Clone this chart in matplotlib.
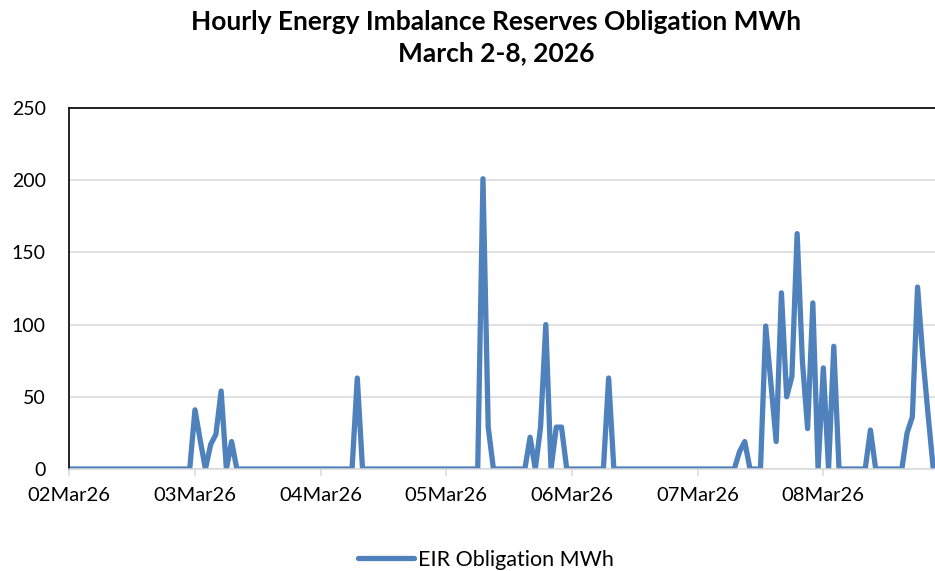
import numpy as np
import pandas as pd
import matplotlib
matplotlib.use('Agg')
import matplotlib.pyplot as plt
import matplotlib.dates as mdates

plt.rcParams['font.family'] = ['Lato', 'DejaVu Sans']

# EIR obligation, MWh, one value per hour (hour 0 = 02Mar26 00:00)
mar02 = [0] * 24
mar03 = [41, 20, 0, 17, 24, 54, 0, 19, 0, 0, 0, 0, 0, 0, 0, 0, 0, 0, 0, 0, 0, 0, 0, 0]
mar04 = [0, 0, 0, 0, 0, 0, 0, 63, 0, 0, 0, 0, 0, 0, 0, 0, 0, 0, 0, 0, 0, 0, 0, 0]
mar05 = [0, 0, 0, 0, 0, 0, 0, 201, 29, 0, 0, 0, 0, 0, 0, 0, 22, 0, 29, 100, 0, 29, 29, 0]
mar06 = [0, 0, 0, 0, 0, 0, 0, 63, 0, 0, 0, 0, 0, 0, 0, 0, 0, 0, 0, 0, 0, 0, 0, 0]
mar07 = [0, 0, 0, 0, 0, 0, 0, 0, 12, 19, 0, 0, 0, 99, 59, 19, 122, 50, 64, 163, 75, 28, 115, 0]
mar08 = [70, 0, 85, 0, 0, 0, 0, 0, 0, 27, 0, 0, 0, 0, 0, 0, 25, 36, 126, 78, 38, 0]

values = mar02 + mar03 + mar04 + mar05 + mar06 + mar07 + mar08
hours = pd.date_range('2026-03-02 00:00', periods=len(values), freq='h')

title = 'Hourly Energy Imbalance Reserves Obligation MWh\nMarch 2-8, 2026'
series_name = 'EIR Obligation MWh'
blue = '#4f81bd'
grid_grey = '#d9d9d9'

fig = plt.figure(figsize=(9.35, 5.71), dpi=100)
ax = fig.add_axes([69.3 / 935, 102 / 571, (935 - 69.3) / 935, 361 / 571])

line, = ax.plot(hours, values, color=blue, linewidth=3.8,
                solid_joinstyle='round', solid_capstyle='round', label=series_name)

start = pd.Timestamp('2026-03-02 00:00')
ax.set_xlim(start, start + pd.Timedelta(hours=165.33))
ax.set_ylim(0, 250)
ax.set_yticks(np.arange(0, 251, 50))

ax.xaxis.set_major_locator(mdates.DayLocator())
ax.xaxis.set_major_formatter(mdates.DateFormatter('%d%b%y'))

ax.grid(axis='y', color=grid_grey, linewidth=1.1)
ax.set_axisbelow(True)

for side in ('left', 'top'):
    ax.spines[side].set_color('black')
    ax.spines[side].set_linewidth(1.2)
ax.spines['right'].set_visible(False)
ax.spines['bottom'].set_color(grid_grey)
ax.spines['bottom'].set_linewidth(1.1)

ax.tick_params(axis='y', length=0, pad=17, labelsize=14)
ax.tick_params(axis='x', length=5, width=1.1, color=grid_grey, pad=8, labelsize=14.5)

fig.text(496.5 / 935, 1 - 37.5 / 571, title, ha='center', va='center',
         fontsize=19, fontweight='bold', linespacing=1.35)

fig.legend(handles=[line], loc='center', bbox_to_anchor=(486 / 935, 1 - 560 / 571),
           frameon=False, fontsize=15.5, handlelength=2.6, handletextpad=0.2)

fig.savefig('out.png', dpi=100)
